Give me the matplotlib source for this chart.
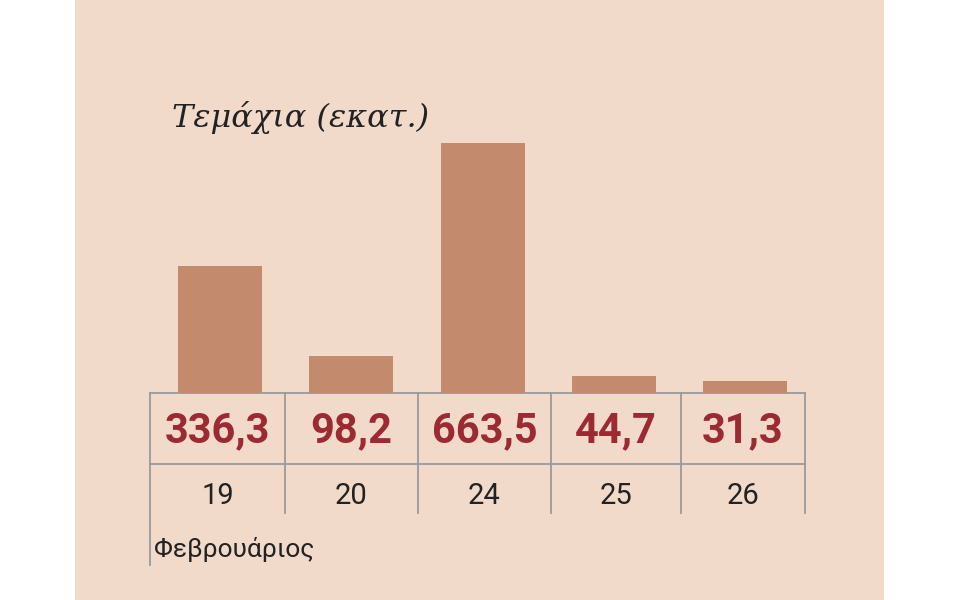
import matplotlib
matplotlib.use("Agg")
import matplotlib.pyplot as plt
from matplotlib.lines import Line2D
from matplotlib.patches import Rectangle

days = ["19", "20", "24", "25", "26"]
values = [336.3, 98.2, 663.5, 44.7, 31.3]
value_labels = ["336,3", "98,2", "663,5", "44,7", "31,3"]
title = "Τεμάχια (εκατ.)"
month = "Φεβρουάριος"

W, H = 960, 600
fig = plt.figure(figsize=(W/100, H/100), dpi=100)
fig.patch.set_facecolor("white")
fig.patches.append(Rectangle((75/W, 0), (884-75)/W, 1, transform=fig.transFigure,
                             facecolor="#f2dacb", edgecolor="none", zorder=-5))

def fx(px): return px / W
def fy(py): return 1 - py / H

ax = fig.add_axes([fx(150), fy(393), fx(805) - fx(150), (393 - 143) / H])
ax.set_zorder(2)
ax.set_facecolor("none")
sp = 131.25
ax.set_xlim((150 - 220) / sp, (805 - 220) / sp)
ax.set_ylim(0, max(values))
ax.bar(range(len(values)), values, width=84 / sp, color="#c48a6e")
ax.axis("off")

gray = "#9a9a9a"
bounds = [150, 285, 418, 551, 681, 805]
for i, b in enumerate(bounds):
    fig.add_artist(Line2D([fx(b), fx(b)], [fy(393), fy(565 if i == 0 else 513)],
                          color=gray, lw=1.3, transform=fig.transFigure))
for yy in [393, 464]:
    fig.add_artist(Line2D([fx(150), fx(805)], [fy(yy), fy(yy)],
                          color=gray, lw=1.3, transform=fig.transFigure))

for i in range(len(days)):
    cx = (bounds[i] + bounds[i + 1]) / 2
    fig.text(fx(cx), fy(431), value_labels[i], ha="center", va="center",
             fontsize=30, fontweight="bold", color="#9b2a33", family="Roboto")
    fig.text(fx(cx), fy(496), days[i], ha="center", va="center",
             fontsize=21, color="#222222", family="Roboto")

fig.text(fx(154), fy(549), month, ha="left", va="center", fontsize=19,
         color="#222222", family="Roboto")
fig.text(fx(172), fy(117), title, ha="left", va="center", fontsize=23,
         style="italic", color="#222222", family="DejaVu Serif")

fig.savefig("out.png", dpi=100)
